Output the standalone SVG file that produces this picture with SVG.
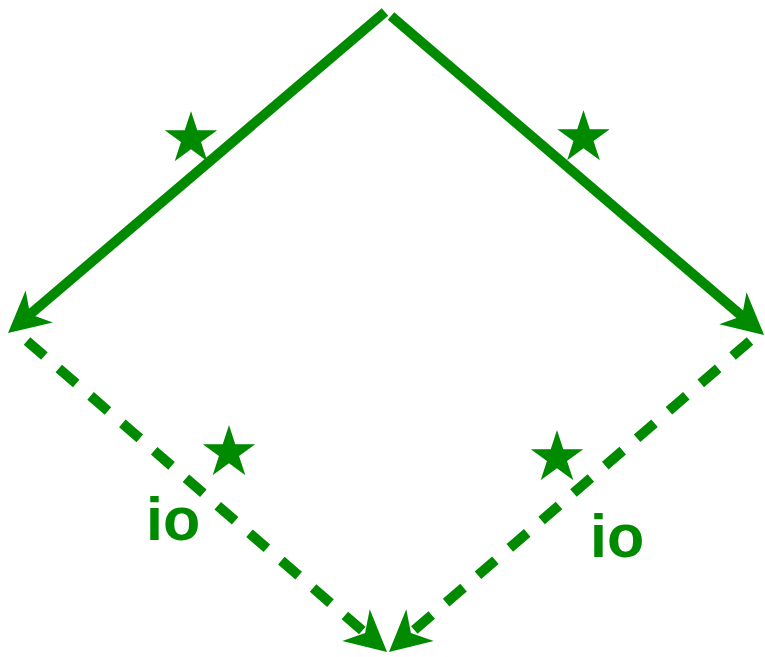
<svg xmlns="http://www.w3.org/2000/svg" width="765" height="657" viewBox="0 0 765 657">
<style>
.ln{fill:none;stroke:#008a00;stroke-width:10;}
.dash{stroke-dasharray:23 19;}
.star{font-family:"Noto Sans CJK SC",sans-serif;font-size:56px;fill:#008a00;text-anchor:middle;}
.lbl{font-family:"Liberation Sans",Arial,sans-serif;font-size:61px;font-weight:bold;fill:#008a00;}
</style>
<defs>
<marker id="arr" markerUnits="userSpaceOnUse" markerWidth="80" markerHeight="80" viewBox="-40 -40 80 80" refX="0" refY="0" orient="auto" overflow="visible">
<path d="M29,0 L-12,-21 L0,0 L-12,21 Z" fill="#008a00"/>
</marker>
</defs>
<g id="connectors">
<line id="e1" class="ln" x1="385" y1="12" x2="30.1" y2="314.2" marker-end="url(#arr)"/>
<line id="e2" class="ln" x1="391" y1="16" x2="742" y2="316.1" marker-end="url(#arr)"/>
<line id="e3" class="ln dash" x1="27" y1="341" x2="365.1" y2="633" marker-end="url(#arr)"/>
<line id="e4" class="ln dash" x1="750" y1="341" x2="410.9" y2="633" marker-end="url(#arr)"/>
</g>
<g id="labels">
<text class="star" x="191" y="156.5">★</text>
<text class="star" x="583.5" y="155.5">★</text>
<text class="star" x="229" y="470.5">★</text>
<text class="star" x="557" y="475.5">★</text>
<text class="lbl" x="146" y="540">io</text>
<text class="lbl" x="590" y="557">io</text>
</g>
</svg>
